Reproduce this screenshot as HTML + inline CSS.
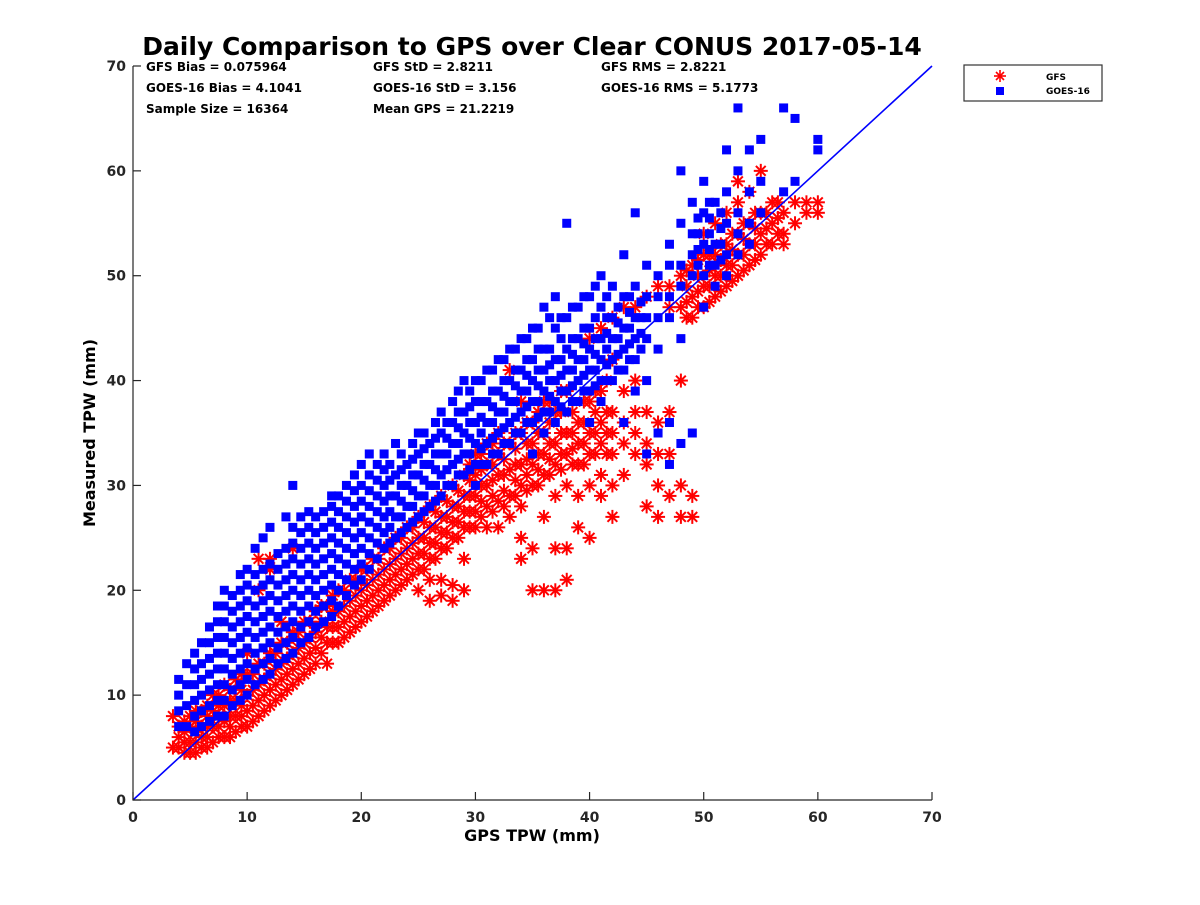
<!DOCTYPE html>
<html><head><meta charset="utf-8"><style>
body{margin:0;background:#fff;}
svg text{font-family:"DejaVu Sans","Liberation Sans",sans-serif;font-weight:bold;}
</style></head><body>
<svg id="chart" width="1200" height="900" viewBox="0 0 1200 900">
<rect width="1200" height="900" fill="#fff"/>
<text x="532" y="55" font-size="25" text-anchor="middle" fill="#000">Daily Comparison to GPS over Clear CONUS 2017-05-14</text>
<g font-size="12" fill="#000">
<text x="146" y="71">GFS Bias = 0.075964</text>
<text x="373" y="71">GFS StD = 2.8211</text>
<text x="601" y="71">GFS RMS = 2.8221</text>
<text x="146" y="92">GOES-16 Bias = 4.1041</text>
<text x="373" y="92">GOES-16 StD = 3.156</text>
<text x="601" y="92">GOES-16 RMS = 5.1773</text>
<text x="146" y="113">Sample Size = 16364</text>
<text x="373" y="113">Mean GPS = 21.2219</text>
</g>
<g id="gfs"></g>
<g id="goes"></g>
<g id="axes"></g>
<g>
<rect x="964" y="65" width="138" height="36" fill="#fff" stroke="#333" stroke-width="1.2"/>
<g stroke="red" stroke-width="1.6"><line x1="1000" y1="70" x2="1000" y2="82"/><line x1="994" y1="76" x2="1006" y2="76"/><line x1="996" y1="72" x2="1004" y2="80"/><line x1="996" y1="80" x2="1004" y2="72"/></g>
<rect x="996" y="87" width="8" height="8" fill="#0000ff"/>
<text x="1046" y="80" font-size="9">GFS</text>
<text x="1046" y="94" font-size="9">GOES-16</text>
</g>
<text x="532" y="841" font-size="16" text-anchor="middle">GPS TPW (mm)</text>
<text transform="translate(95,433) rotate(-90)" font-size="16" text-anchor="middle">Measured TPW (mm)</text>
</svg>
<script>
const xTicks=[0,10,20,30,40,50,60,70];
const yTicks=[0,10,20,30,40,50,60,70];
const gfsCols=[[3.5,[5,8]],[4,[5,6,7]],[4.5,[4.5,5.5,6.5,7.5]],[5,[4.5,5.5,7,8]],[5.5,[4.5,5.5,6.5,7.5,8.5]],[6,[5,6,7,8.5]],[6.5,[5,6,7,8,9]],[7,[5.5,7,8.5,10]],[7.5,[6,7,8,9,10]],[8,[6,7.5,9,11]],[8.5,[6,7,8,9.5,10.5]],[9,[6.5,8,9.5,11.5]],[9.5,[7,8,9,10.5,12]],[10,[7,8.5,10,12,14]],[10.5,[7.5,9,10.5,12]],[11,[8,9.5,11,13,20,23]],[11.5,[8.5,10,11.5,13]],[12,[9,10.5,12,14,22,23]],[12.5,[9.5,11,12.5,14]],[13,[10,11.5,13,15,17]],[13.5,[10.5,12,13.5,15]],[14,[11,12.5,14,16,24]],[14.5,[11.5,13,14.5,16]],[15,[12,13.5,15,17]],[15.5,[12.5,14,15.5,17]],[16,[13,14.5,16,18]],[16.5,[14,15.5,17,18.5]],[17,[13,15,16.5,18.5]],[17.5,[15,16.5,18,19.5]],[18,[15,16.5,18,20]],[18.5,[15.5,17,18.5,20]],[19,[16,17.5,19,21]],[19.5,[16.5,18,19.5,21]],[20,[17,18.5,20,22]],[20.5,[17.5,19,20.5,22]],[21,[18,19.5,21,23]],[21.5,[18.5,20,21.5,23]],[22,[19,20.5,22,24]],[22.5,[19.5,21,22.5,24]],[23,[20,21.5,23,25]],[23.5,[20.5,22,23.5,25]],[24,[21,22.5,24,26]],[24.5,[21.5,23,24.5,26]],[25,[20,22,23.5,25,27]],[25.5,[22,23.5,25,26.5]],[26,[19,21,23,24.5,26,28]],[26.5,[23,24.5,26,27.5]],[27,[19.5,21,24,25.5,27,29]],[27.5,[24,25.5,27,28.5]],[28,[19,20.5,25,26.5,28,30]],[28.5,[25,26.5,28,29.5]],[29,[20,23,26,27.5,29,31]],[29.5,[26,27.5,29,30.5,32]],[30,[26,27.5,29,31,33]],[30.5,[27,28.5,30,31.5,33]],[31,[26,28,30,32,34]],[31.5,[27.5,29,30.5,32,34]],[32,[26,28.5,31,33,35]],[32.5,[28,29.5,31,32.5,34]],[33,[27,29,31.5,34,41]],[33.5,[29,30.5,32,33.5,35]],[34,[23,25,28,30,32,35,38]],[34.5,[29.5,31,32.5,34,36]],[35,[20,24,30,32,34,36]],[35.5,[30,31.5,33,35,37]],[36,[20,27,31,33,35,38]],[36.5,[31,32.5,34,36,38]],[37,[20,24,29,32,34,37]],[37.5,[31.5,33,35,37,39]],[38,[21,24,30,33,35,39]],[38.5,[32,33.5,35,37]],[39,[26,29,32,34,36]],[39.5,[32,34,36,38]],[40,[25,30,33,35,38,44]],[40.5,[33,35,37,39]],[41,[29,31,34,36,39,45]],[41.5,[33,35,37,40]],[42,[27,30,33,35,37,42,46]],[43,[31,34,36,39,47]],[44,[33,35,37,40,47]],[45,[28,32,34,37,48]],[46,[27,30,33,36,49]],[47,[29,33,37,47,49]],[48,[27,30,40,47,50]],[48.5,[46,47.5,49,50.5]],[49,[27,29,46,48,51]],[49.5,[47,48.5,50,51.5]],[50,[47,49,52,54]],[50.5,[47.5,49,50.5,52]],[51,[48,50,52,55]],[51.5,[48.5,50,51.5,53]],[52,[49,51,53,56]],[52.5,[49.5,51,52.5,54]],[53,[50,52,54,57,59]],[53.5,[50.5,52,53.5,55]],[54,[51,53,55,58]],[54.5,[51.5,53,54.5,56]],[55,[52,54,56,60]],[55.5,[53,54.5,56]],[56,[53,55,57]],[56.5,[54,55.5,57]],[57,[53,54,56]],[58,[55,57]],[59,[56,57]],[60,[56,57]]];
const goesCols=[[4,[7,8.5,10,11.5]],[4.7,[7,9,11,13]],[5.4,[6.5,8,9.5,11,12.5,14]],[6,[7,8.5,10,11.5,13,15]],[6.7,[7.5,9,10.5,12,13.5,15,16.5]],[7.4,[8,9.5,11,12.5,14,15.5,17,18.5]],[8,[8,9.5,11,12.5,14,15.5,17,18.5,20]],[8.7,[9,10.5,12,13.5,15,16.5,18,19.5]],[9.4,[9.5,11,12.5,14,15.5,17,18.5,20,21.5]],[10,[10,11.5,13,14.5,16,17.5,19,20.5,22]],[10.7,[11,12.5,14,15.5,17,18.5,20,21.5,24]],[11.4,[11.5,13,14.5,16,17.5,19,20.5,22,25]],[12,[12,13.5,15,16.5,18,19.5,21,22.5,26]],[12.7,[13,14.5,16,17.5,19,20.5,22,23.5]],[13.4,[13.5,15,16.5,18,19.5,21,22.5,24,27]],[14,[14,15.5,17,18.5,20,21.5,23,24.5,26,30]],[14.7,[15,16.5,18,19.5,21,22.5,24,25.5,27]],[15.4,[15.5,17,18.5,20,21.5,23,24.5,26,27.5]],[16,[16.5,18,19.5,21,22.5,24,25.5,27]],[16.7,[17,18.5,20,21.5,23,24.5,26,27.5]],[17.4,[17.5,19,20.5,22,23.5,25,26.5,28,29]],[18,[18.5,20,21.5,23,24.5,26,27.5,29]],[18.7,[19.5,21,22.5,24,25.5,27,28.5,30]],[19.4,[20.5,22,23.5,25,26.5,28,29.5,31]],[20,[21,22.5,24,25.5,27,28.5,30,32]],[20.7,[22,23.5,25,26.5,28,29.5,31,33]],[21.4,[23,24.5,26,27.5,29,30.5,32]],[22,[24,25.5,27,28.5,30,31.5,33]],[22.5,[24.5,26,27.5,29,30.5,32]],[23,[25,27,29,31,34]],[23.5,[25.5,27,28.5,30,31.5,33]],[24,[26,28,30,32]],[24.5,[26.5,28,29.5,31,32.5,34]],[25,[27,29,31,33,35]],[25.5,[27.5,29,30.5,32,33.5,35]],[26,[28,30,32,34]],[26.5,[28.5,30,31.5,33,34.5,36]],[27,[29,31,33,35,37]],[27.5,[30,31.5,33,34.5,36]],[28,[30,32,34,36,38]],[28.5,[31,32.5,34,35.5,37,39]],[29,[31,33,35,37,40]],[29.5,[31.5,33,34.5,36,37.5,39]],[30,[30,32,34,36,38,40]],[30.5,[32,33.5,35,36.5,38,40]],[31,[32,34,36,38,41]],[31.5,[33,34.5,36,37.5,39,41]],[32,[33,35,37,39,42]],[32.5,[34,35.5,37,38.5,40,42]],[33,[34,36,38,40,43]],[33.5,[35,36.5,38,39.5,41,43]],[34,[35,37,39,41,44]],[34.5,[36,37.5,39,40.5,42,44]],[35,[33,36,38,40,42,45]],[35.5,[36.5,38,39.5,41,43,45]],[36,[35,37,39,41,43,47]],[36.5,[37,38.5,40,41.5,43,46]],[37,[36,38,40,42,45,48]],[37.5,[37.5,39,40.5,42,44,46]],[38,[37,39,41,43,46,55]],[38.5,[38,39.5,41,42.5,44,47]],[39,[38,40,42,44,47]],[39.5,[39,40.5,42,43.5,45,48]],[40,[36,39,41,43,45,48]],[40.5,[39.5,41,42.5,44,46,49]],[41,[38,40,42,44,47,50]],[41.5,[40,41.5,43,44.5,46,48]],[42,[40,42,44,46,49]],[42.5,[41,42.5,44,45.5,47]],[43,[36,41,43,45,48,52]],[43.5,[42,43.5,45,46.5,48]],[44,[39,42,44,46,49,56]],[44.5,[43,44.5,46,47.5]],[45,[33,40,44,46,48,51]],[46,[35,43,46,48,50]],[47,[32,36,46,48,51,53]],[48,[34,44,49,51,55,60]],[49,[35,50,52,54,57]],[49.5,[51,52.5,54,55.5]],[50,[47,50,53,56,59]],[50.5,[51,52.5,54,55.5,57]],[51,[49,51,53,57]],[51.5,[51.5,53,54.5,56]],[52,[50,52,55,58,62]],[53,[52,54,56,60,66]],[54,[53,55,58,62]],[55,[56,59,63]],[57,[58,66]],[58,[59,65]],[60,[62,63]]];
const NS="http://www.w3.org/2000/svg";
const X0=133,X1=932,Y0=800,Y1=66;
function sx(v){return X0+(X1-X0)*v/70;}
function sy(v){return Y0-(Y0-Y1)*v/70;}
function mk(tag,attrs,parent){const e=document.createElementNS(NS,tag);for(const k in attrs)e.setAttribute(k,attrs[k]);parent.appendChild(e);return e;}
const gfs=document.getElementById('gfs'),goes=document.getElementById('goes'),axes=document.getElementById('axes');
gfsCols.forEach(c=>c[1].forEach(v=>{
  const cx=sx(c[0]),cy=sy(v),r=7;
  const g=mk('g',{stroke:'#ff0000','stroke-width':2},gfs);
  
  
  mk('line',{x1:cx,y1:cy-r,x2:cx,y2:cy+r},g);
  mk('line',{x1:cx-r,y1:cy,x2:cx+r,y2:cy},g);
  mk('line',{x1:cx-r*0.7,y1:cy-r*0.7,x2:cx+r*0.7,y2:cy+r*0.7},g);
  mk('line',{x1:cx-r*0.7,y1:cy+r*0.7,x2:cx+r*0.7,y2:cy-r*0.7},g);
}));
goesCols.forEach(c=>c[1].forEach(v=>{
  const s=9;
  const r=mk('rect',{x:sx(c[0])-s/2,y:sy(v)-s/2,width:s,height:s,fill:'#0000ff'},goes);
  
  
}));
const diag=mk('line',{x1:sx(0),y1:sy(0),x2:sx(70),y2:sy(70),stroke:'#0000ff','stroke-width':1.6},axes);


const ax=mk('path',{d:`M${X0},${Y1}V${Y0}H${X1}`,fill:'none',stroke:'#262626','stroke-width':1.2},axes);


xTicks.forEach(t=>{
  mk('line',{x1:sx(t),y1:Y0,x2:sx(t),y2:Y0-8,stroke:'#262626','stroke-width':1.2},axes);
  const tx=mk('text',{x:sx(t),y:Y0+22,'font-size':14,'text-anchor':'middle',fill:'#262626'},axes);
  tx.textContent=t;
  
  
});
yTicks.forEach(t=>{
  mk('line',{x1:X0,y1:sy(t),x2:X0+8,y2:sy(t),stroke:'#262626','stroke-width':1.2},axes);
  const tx=mk('text',{x:X0-7,y:sy(t)+5,'font-size':14,'text-anchor':'end',fill:'#262626'},axes);
  tx.textContent=t;
  
  
});
</script>
</body></html>
